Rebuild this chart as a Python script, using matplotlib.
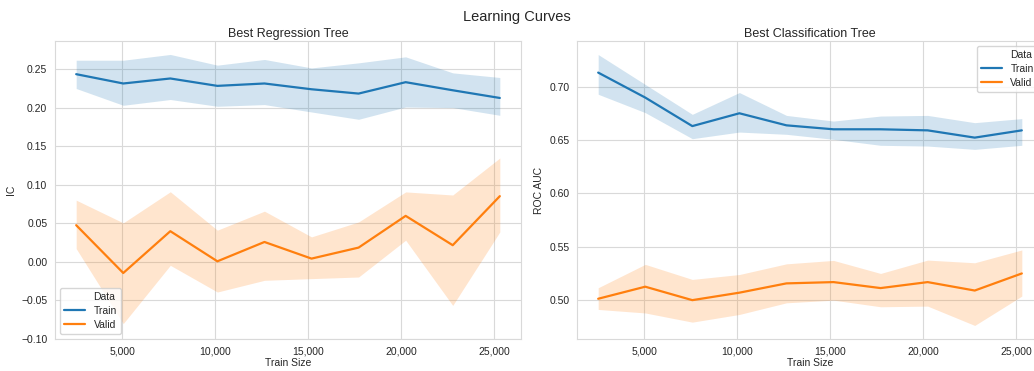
import matplotlib
matplotlib.use("Agg")
import matplotlib.pyplot as plt
import seaborn as sns
from matplotlib.ticker import FuncFormatter

sns.set_style("whitegrid")
plt.rcParams['font.family'] = ['Liberation Sans', 'DejaVu Sans']

train_size = [2532, 5064, 7596, 10128, 12660, 15192, 17724, 20256, 22788, 25321]

# Best Regression Tree (IC)
reg_train = [0.2439, 0.2318, 0.2383, 0.2287, 0.2318, 0.2243, 0.2187, 0.2335, 0.2230, 0.2130]
reg_train_hi = [0.262, 0.262, 0.2695, 0.2556, 0.263, 0.252, 0.2586, 0.2664, 0.2456, 0.2396]
reg_train_lo = [0.2253, 0.2035, 0.211, 0.2022, 0.2044, 0.1948, 0.1853, 0.2013, 0.2005, 0.1905]
reg_valid = [0.0478, -0.0143, 0.040, 0.0009, 0.026, 0.0044, 0.0187, 0.0599, 0.0218, 0.0855]
reg_valid_hi = [0.0803, 0.0508, 0.0912, 0.0413, 0.066, 0.0326, 0.052, 0.091, 0.087, 0.135]
reg_valid_lo = [0.0174, -0.080, -0.0043, -0.039, -0.0238, -0.0216, -0.0195, 0.0283, -0.0564, 0.039]

# Best Classification Tree (ROC AUC)
clf_train = [0.7131, 0.6897, 0.663, 0.675, 0.6637, 0.660, 0.660, 0.659, 0.6522, 0.659]
clf_train_hi = [0.730, 0.702, 0.674, 0.6944, 0.673, 0.6677, 0.6724, 0.673, 0.6662, 0.670]
clf_train_lo = [0.6928, 0.6756, 0.6512, 0.6574, 0.6553, 0.6506, 0.645, 0.6443, 0.6412, 0.645]
clf_valid = [0.5013, 0.5126, 0.500, 0.507, 0.5157, 0.5169, 0.5113, 0.5169, 0.509, 0.525]
clf_valid_hi = [0.5116, 0.5335, 0.5194, 0.524, 0.534, 0.5372, 0.525, 0.5375, 0.535, 0.547]
clf_valid_lo = [0.4913, 0.488, 0.4794, 0.4866, 0.4975, 0.500, 0.4938, 0.4944, 0.4763, 0.5038]

blue, orange = "#1f77b4", "#ff7f0e"

fig = plt.figure(figsize=(10.34, 3.71), dpi=100)
ax1 = fig.add_axes([55 / 1034, 32 / 371, 466 / 1034, 298 / 371])
ax2 = fig.add_axes([577 / 1034, 32 / 371, 466 / 1034, 298 / 371])

panels = [
    (ax1, "Best Regression Tree", "IC", reg_train, reg_train_lo, reg_train_hi,
     reg_valid, reg_valid_lo, reg_valid_hi, "lower left"),
    (ax2, "Best Classification Tree", "ROC AUC", clf_train, clf_train_lo, clf_train_hi,
     clf_valid, clf_valid_lo, clf_valid_hi, "upper right"),
]

for ax, title, ylab, tr, tlo, thi, va, vlo, vhi, loc in panels:
    # old-style seaborn legend: hue name as an entry with an empty handle
    ax.plot([], [], color="none", label="Data")
    ax.fill_between(train_size, tlo, thi, color=blue, alpha=0.2, linewidth=0)
    ax.plot(train_size, tr, color=blue, lw=1.6, label="Train")
    ax.fill_between(train_size, vlo, vhi, color=orange, alpha=0.2, linewidth=0)
    ax.plot(train_size, va, color=orange, lw=1.6, label="Valid")
    ax.set_title(title, fontsize=9, pad=3)
    ax.set_ylabel(ylab, fontsize=7.5, labelpad=4)
    ax.set_xlabel("Train Size", fontsize=7.5, labelpad=1)
    ax.tick_params(labelsize=7.5, pad=2)
    ax.set_xticks([5000, 10000, 15000, 20000, 25000])
    ax.xaxis.set_major_formatter(FuncFormatter(lambda v, p: f"{int(v):,}"))
    ax.yaxis.set_major_formatter(FuncFormatter(lambda v, p: f"{v:.2f}".replace("-", "\u2212")))
    ax.grid(True, color="#d9d9d9", lw=0.8)
    for s in ax.spines.values():
        s.set_color("#d9d9d9")
    leg = ax.legend(loc=loc, fontsize=7.5, frameon=True, borderpad=0.4,
                    labelspacing=0.35, handlelength=2.0)
    leg.get_frame().set_edgecolor("#cccccc")

ax1.set_yticks([-0.10, -0.05, 0.00, 0.05, 0.10, 0.15, 0.20, 0.25])
ax2.set_yticks([0.50, 0.55, 0.60, 0.65, 0.70])

fig.suptitle("Learning Curves", fontsize=10.5, y=0.955, x=0.5, va="center")

fig.savefig("out.png", dpi=100)
